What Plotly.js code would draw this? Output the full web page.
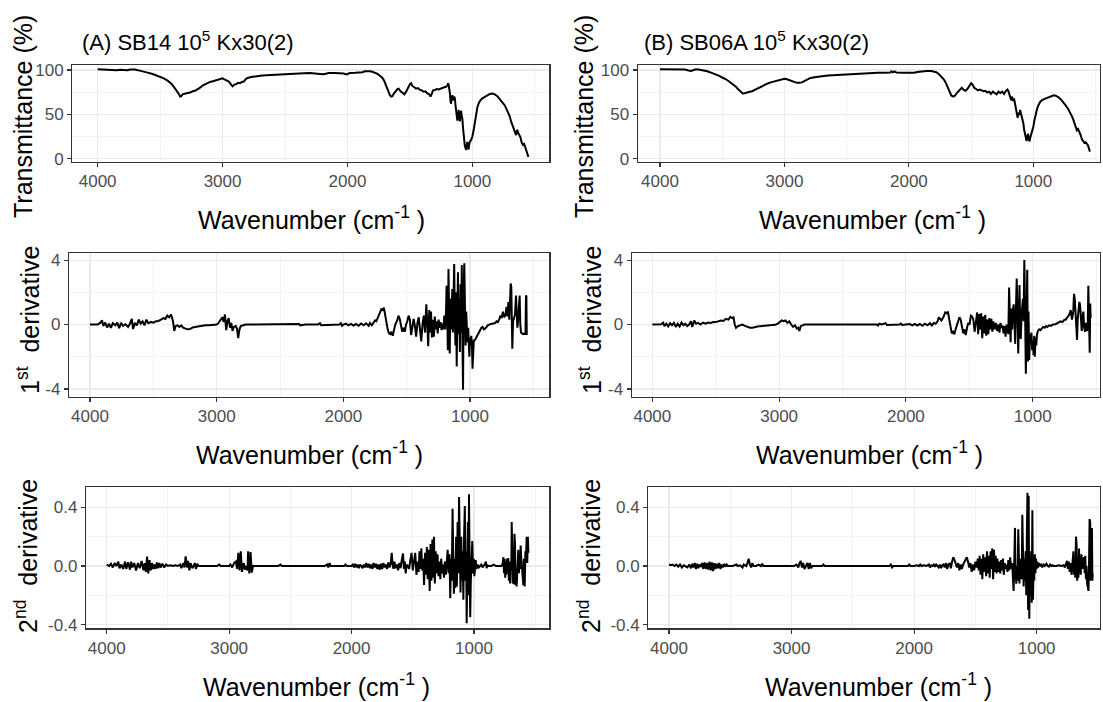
<!DOCTYPE html>
<html><head><meta charset="utf-8">
<script src="https://cdn.plot.ly/plotly-3.0.1.min.js"></script>
<style>html,body{margin:0;padding:0;background:#fff;} #chart{width:1103px;height:702px;}</style>
</head><body><div id="chart"></div>
<script>
// ---- data: [wavenumber, value] ----
const transA = [[4000,100.8],[3960,100.6],[3920,100.2],[3900,99.6],[3880,100.3],[3850,99.8],[3820,100.3],[3800,100.0],[3780,100.2],[3760,99.7],[3740,100.4],[3720,100.7],[3700,100.4],[3680,99.8],[3650,99.0],[3620,98.0],[3600,97.0],[3560,95.5],[3520,93.5],[3500,92.5],[3470,90.5],[3440,88.0],[3410,84.5],[3390,81.0],[3370,77.5],[3350,73.0],[3340,70.0],[3330,70.5],[3320,72.5],[3300,73.5],[3280,74.0],[3260,74.5],[3240,76.0],[3220,76.5],[3200,78.0],[3180,80.0],[3160,82.5],[3130,85.0],[3100,86.5],[3070,87.5],[3040,89.0],[3020,90.0],[3000,90.5],[2985,89.5],[2970,88.5],[2950,87.0],[2935,84.0],[2920,81.5],[2905,83.5],[2890,84.0],[2875,85.5],[2860,85.0],[2845,86.5],[2830,87.0],[2815,89.5],[2800,91.0],[2770,92.0],[2740,93.0],[2700,93.5],[2650,94.0],[2600,94.5],[2550,95.0],[2500,95.0],[2450,95.5],[2400,96.0],[2350,96.3],[2300,96.5],[2250,96.3],[2220,95.5],[2190,95.2],[2170,96.0],[2150,96.5],[2100,96.5],[2060,96.3],[2030,96.0],[2010,95.0],[1995,95.5],[1980,96.5],[1940,96.8],[1900,97.0],[1880,97.5],[1860,98.5],[1840,98.8],[1820,98.5],[1800,98.0],[1780,97.0],[1760,95.5],[1740,93.5],[1720,91.0],[1705,87.5],[1690,82.0],[1675,76.0],[1660,71.5],[1650,70.0],[1640,70.5],[1630,73.0],[1615,76.0],[1600,78.5],[1590,79.0],[1575,76.0],[1560,74.5],[1545,72.5],[1530,75.5],[1515,80.5],[1500,84.0],[1490,85.0],[1480,82.0],[1465,80.5],[1450,79.0],[1435,79.5],[1420,77.5],[1405,77.0],[1390,75.5],[1375,76.0],[1360,73.5],[1345,72.5],[1335,70.0],[1325,73.0],[1315,77.0],[1300,77.5],[1285,78.5],[1270,78.0],[1255,79.0],[1240,79.5],[1225,80.5],[1210,81.0],[1200,82.5],[1192,85.0],[1186,80.0],[1180,74.0],[1175,65.0],[1170,62.0],[1165,69.0],[1160,71.5],[1155,67.0],[1150,66.0],[1145,70.0],[1140,68.0],[1135,60.0],[1130,55.0],[1125,47.0],[1120,43.0],[1115,50.0],[1110,55.0],[1105,48.0],[1100,42.0],[1095,50.0],[1090,54.0],[1085,48.0],[1080,45.0],[1075,35.0],[1070,24.0],[1065,18.0],[1060,14.0],[1055,12.0],[1050,10.0],[1045,15.0],[1040,19.0],[1035,13.0],[1030,10.5],[1025,16.0],[1020,19.0],[1010,21.0],[1000,25.0],[990,32.0],[980,41.0],[970,50.0],[960,58.0],[950,62.0],[940,65.0],[920,68.0],[900,70.0],[880,71.5],[860,73.0],[840,73.5],[820,72.5],[800,70.5],[780,67.5],[760,63.5],[740,60.0],[725,55.0],[710,50.5],[700,47.5],[690,42.0],[680,38.0],[670,35.0],[660,32.0],[655,28.0],[650,26.5],[645,30.0],[640,32.5],[635,30.0],[625,27.0],[615,24.0],[605,18.0],[595,15.5],[585,16.5],[575,13.0],[565,9.0],[558,5.0],[552,2.0]];

const transB = [[4000,100.8],[3950,100.8],[3900,100.8],[3850,100.8],[3800,100.6],[3770,99.5],[3750,99.0],[3730,100.0],[3710,100.8],[3690,100.5],[3660,99.8],[3620,98.5],[3600,97.5],[3560,95.5],[3520,93.0],[3500,91.5],[3470,89.5],[3440,86.5],[3410,83.5],[3390,81.0],[3370,78.0],[3350,75.5],[3335,73.5],[3320,73.8],[3300,75.0],[3280,75.5],[3260,76.0],[3240,77.5],[3220,78.5],[3200,80.0],[3170,82.0],[3140,84.5],[3110,86.0],[3080,87.0],[3050,88.0],[3020,89.5],[3000,90.0],[2980,89.5],[2960,88.5],[2940,87.5],[2920,86.5],[2900,85.5],[2880,85.5],[2860,86.0],[2840,87.5],[2820,89.0],[2800,90.5],[2770,91.5],[2740,92.5],[2700,93.0],[2650,93.8],[2600,94.2],[2550,94.5],[2500,95.0],[2450,95.8],[2400,96.3],[2350,96.5],[2300,96.7],[2250,96.8],[2200,97.0],[2150,97.2],[2140,98.5],[2130,97.3],[2115,98.3],[2100,97.0],[2050,96.8],[2000,96.8],[1960,97.0],[1930,97.8],[1900,98.5],[1860,98.8],[1820,98.8],[1800,98.5],[1780,97.5],[1760,95.5],[1740,92.5],[1720,89.5],[1705,86.0],[1690,81.5],[1675,76.0],[1660,71.5],[1645,70.0],[1630,71.0],[1615,74.0],[1600,76.5],[1585,79.0],[1575,80.0],[1560,77.5],[1545,76.5],[1530,78.5],[1515,82.0],[1500,85.0],[1490,84.0],[1475,80.0],[1460,78.5],[1445,77.0],[1430,78.0],[1415,76.5],[1400,76.0],[1385,76.5],[1370,74.5],[1355,75.5],[1340,73.0],[1325,75.5],[1310,74.0],[1295,72.5],[1280,75.5],[1265,74.0],[1250,75.5],[1235,73.0],[1220,76.5],[1208,78.0],[1200,76.0],[1192,72.0],[1185,69.0],[1178,66.0],[1170,70.0],[1163,65.0],[1155,68.0],[1148,62.0],[1140,57.0],[1133,52.0],[1126,46.0],[1120,52.0],[1113,49.0],[1106,55.0],[1100,52.0],[1093,46.0],[1086,44.0],[1080,40.0],[1073,32.0],[1066,26.0],[1060,22.0],[1054,20.0],[1048,25.0],[1042,28.0],[1036,22.0],[1030,19.5],[1024,24.0],[1018,27.0],[1010,30.0],[1000,36.0],[990,44.0],[980,51.0],[970,56.0],[960,60.0],[945,64.0],[930,66.0],[910,67.5],[890,68.5],[870,69.5],[850,70.5],[835,71.5],[820,71.0],[800,69.5],[780,67.0],[760,64.0],[740,60.0],[720,56.0],[700,51.5],[690,48.0],[680,44.5],[670,40.0],[660,35.0],[650,32.0],[640,33.5],[630,31.0],[620,27.0],[610,22.0],[600,19.0],[590,18.0],[580,18.5],[570,16.5],[560,15.0],[552,11.0],[545,8.0]];

const firstDerA = [[4000,0.0],[3970,0.02],[3940,0.0],[3920,0.1],[3905,0.25],[3895,-0.1],[3880,0.12],[3865,-0.18],[3850,0.05],[3835,-0.2],[3820,0.08],[3800,-0.05],[3785,0.12],[3770,-0.22],[3755,0.1],[3740,-0.08],[3720,0.02],[3700,-0.15],[3685,0.05],[3670,0.35],[3660,-0.28],[3645,0.1],[3630,-0.05],[3615,0.3],[3600,0.05],[3585,0.2],[3570,-0.05],[3555,0.3],[3540,0.08],[3520,0.15],[3500,0.12],[3480,0.2],[3460,0.22],[3440,0.3],[3420,0.4],[3405,0.35],[3390,0.55],[3375,0.45],[3360,0.62],[3345,0.2],[3335,-0.4],[3325,-0.1],[3310,-0.05],[3295,-0.15],[3280,-0.05],[3265,-0.2],[3250,-0.25],[3230,-0.3],[3210,-0.28],[3190,-0.18],[3170,-0.15],[3150,-0.12],[3120,-0.08],[3090,-0.05],[3060,-0.04],[3030,-0.03],[3000,0.0],[2985,0.1],[2970,0.25],[2955,0.45],[2945,0.15],[2935,0.62],[2925,-0.35],[2915,0.2],[2905,0.4],[2895,-0.2],[2885,0.1],[2875,-0.4],[2865,-0.15],[2850,-0.1],[2840,-0.25],[2830,-0.85],[2820,-0.3],[2810,-0.1],[2790,-0.05],[2770,0.0],[2700,0.0],[2600,0.0],[2500,0.0],[2400,0.0],[2350,0.03],[2340,-0.05],[2300,0.0],[2200,0.0],[2185,0.08],[2175,-0.05],[2100,0.0],[2030,0.0],[2020,0.08],[2010,-0.08],[2000,0.0],[1980,0.05],[1960,-0.05],[1940,0.04],[1920,-0.06],[1900,0.03],[1880,-0.08],[1860,0.06],[1840,-0.05],[1820,0.08],[1800,-0.08],[1790,0.1],[1775,-0.05],[1760,0.1],[1750,0.25],[1740,0.2],[1730,0.4],[1720,0.6],[1710,0.85],[1700,0.95],[1690,0.9],[1680,1.05],[1670,0.6],[1660,0.1],[1650,-0.3],[1640,-0.55],[1630,-0.6],[1620,-0.45],[1610,-0.7],[1600,-0.35],[1590,0.0],[1575,0.25],[1565,0.55],[1555,0.35],[1545,-0.1],[1535,-0.45],[1525,-0.2],[1515,-0.45],[1505,0.0],[1495,0.2],[1485,0.55],[1475,0.3],[1465,-0.65],[1455,-0.2],[1445,0.35],[1435,-0.1],[1425,-0.75],[1415,0.1],[1405,0.45],[1395,-0.3],[1385,-1.05],[1375,0.0],[1365,0.55],[1355,-0.5],[1345,1.25],[1338,0.2],[1330,-1.35],[1322,0.9],[1315,-0.5],[1308,0.8],[1300,-0.8],[1292,0.3],[1285,-0.75],[1278,0.5],[1270,-0.3],[1262,0.2],[1255,-0.55],[1248,0.3],[1240,-0.2],[1232,0.15],[1225,-0.35],[1218,0.05],[1210,-0.3],[1203,0.55],[1196,-0.3],[1190,0.6],[1185,2.4],[1180,0.8],[1175,-1.6],[1170,3.45],[1165,1.2],[1160,-1.8],[1155,1.6],[1150,-0.3],[1145,0.6],[1140,2.2],[1135,-0.5],[1130,1.5],[1125,3.75],[1120,0.5],[1115,-1.3],[1110,2.0],[1105,-2.6],[1100,0.8],[1095,3.25],[1090,-0.6],[1085,1.6],[1080,-1.7],[1075,2.5],[1070,-0.5],[1065,3.7],[1060,-1.0],[1055,-4.05],[1050,2.4],[1045,3.8],[1040,1.2],[1035,-1.3],[1030,0.8],[1025,-0.5],[1020,-1.1],[1015,-0.2],[1010,-1.0],[1005,-2.0],[1000,-0.8],[995,-1.3],[990,-0.7],[985,-1.2],[980,-2.75],[975,-1.3],[970,-1.0],[960,-0.95],[950,-0.8],[940,-0.65],[930,-0.5],[920,-0.35],[910,-0.2],[900,-0.15],[890,-0.3],[880,-0.25],[870,-0.1],[860,-0.05],[840,0.02],[820,0.05],[800,0.1],[790,0.2],[780,0.15],[770,0.3],[760,0.55],[750,0.4],[740,0.8],[730,0.45],[720,0.6],[712,1.1],[705,0.5],[697,1.4],[690,0.3],[684,1.5],[679,2.55],[674,2.3],[670,0.5],[666,-1.5],[660,0.2],[652,0.4],[645,0.6],[637,1.8],[632,0.5],[626,-0.2],[620,0.3],[613,0.9],[608,1.8],[603,0.0],[597,-0.5],[590,-0.55],[580,-0.6],[570,-0.55],[562,-0.6],[558,1.8],[555,1.75],[552,-0.65]];

const firstDerB = [[4000,0.0],[3960,0.0],[3930,0.02],[3915,0.12],[3905,-0.1],[3890,0.05],[3875,-0.12],[3860,0.08],[3845,-0.05],[3830,0.1],[3815,-0.15],[3800,0.05],[3785,-0.12],[3770,0.12],[3755,-0.05],[3740,0.05],[3725,-0.1],[3710,0.0],[3695,0.2],[3685,-0.15],[3670,0.25],[3655,0.05],[3640,0.1],[3620,0.0],[3600,0.12],[3580,0.05],[3560,0.12],[3540,0.1],[3520,0.15],[3500,0.15],[3480,0.2],[3460,0.25],[3440,0.22],[3420,0.35],[3400,0.3],[3385,0.48],[3370,0.4],[3360,0.45],[3350,0.0],[3340,-0.2],[3325,-0.1],[3310,-0.05],[3290,0.0],[3270,-0.08],[3250,-0.15],[3230,-0.2],[3210,-0.2],[3190,-0.15],[3170,-0.12],[3150,-0.1],[3120,-0.08],[3090,-0.05],[3060,-0.04],[3030,-0.02],[3010,0.05],[2995,0.15],[2980,0.25],[2965,0.2],[2950,0.25],[2935,0.1],[2920,0.2],[2905,0.0],[2890,-0.15],[2875,-0.05],[2860,-0.25],[2850,-0.2],[2840,-0.4],[2830,-0.1],[2815,-0.05],[2800,0.0],[2700,0.0],[2600,0.0],[2500,0.0],[2400,0.0],[2300,0.0],[2230,0.0],[2220,-0.06],[2210,0.05],[2190,0.0],[2160,0.08],[2150,-0.03],[2100,0.0],[2050,0.0],[2040,0.06],[2030,-0.03],[2000,0.0],[1970,0.03],[1950,-0.05],[1930,0.04],[1910,-0.06],[1890,0.03],[1870,-0.08],[1850,0.05],[1830,-0.05],[1810,0.08],[1795,-0.06],[1780,0.1],[1765,0.05],[1750,0.2],[1740,0.45],[1730,0.3],[1720,0.25],[1705,0.45],[1690,0.75],[1678,0.7],[1668,0.8],[1658,0.3],[1648,-0.3],[1638,-0.55],[1628,-0.45],[1618,-0.6],[1608,-0.3],[1598,0.0],[1588,0.15],[1578,0.45],[1568,0.3],[1558,-0.1],[1548,-0.55],[1538,-0.3],[1528,-0.65],[1518,-0.2],[1508,0.1],[1498,0.0],[1488,0.55],[1478,0.5],[1468,0.3],[1458,-0.45],[1448,0.25],[1438,0.75],[1430,-0.6],[1422,0.65],[1414,-0.3],[1406,0.7],[1398,-0.85],[1390,0.5],[1382,-0.55],[1374,0.6],[1366,-0.7],[1358,0.3],[1350,-0.6],[1342,0.4],[1334,-0.3],[1326,0.35],[1318,-0.45],[1310,0.2],[1300,-0.3],[1290,0.1],[1280,-0.4],[1270,0.0],[1262,-0.5],[1254,0.1],[1246,-0.2],[1238,-0.05],[1230,-0.55],[1222,-0.1],[1214,-0.75],[1206,0.0],[1198,-0.3],[1192,-0.6],[1186,2.3],[1180,0.2],[1174,-1.1],[1168,1.0],[1162,-0.3],[1156,0.9],[1150,1.25],[1144,0.1],[1138,-1.2],[1132,1.0],[1126,2.85],[1120,0.8],[1114,-1.8],[1108,0.5],[1104,2.45],[1098,-0.5],[1094,-0.9],[1088,0.6],[1082,1.2],[1077,1.6],[1072,0.2],[1066,4.0],[1060,0.9],[1054,-3.05],[1048,0.3],[1043,3.4],[1038,-2.3],[1033,0.8],[1027,-2.2],[1021,-0.6],[1016,-1.0],[1010,-0.5],[1004,-1.6],[998,-1.0],[993,-1.9],[988,-0.7],[983,-2.0],[978,-0.8],[972,-1.3],[966,-0.6],[958,-0.4],[948,-0.3],[938,-0.35],[928,-0.25],[918,-0.15],[905,-0.2],[895,-0.1],[885,-0.15],[870,-0.05],[855,-0.08],[840,0.0],[820,0.02],[800,0.1],[780,0.2],[765,0.15],[750,0.3],[740,0.3],[725,0.5],[712,0.6],[700,0.9],[690,0.3],[680,0.8],[674,1.9],[668,1.6],[662,0.5],[656,0.2],[650,-0.95],[645,0.3],[638,0.9],[632,1.4],[626,1.2],[620,0.1],[613,-0.4],[607,0.5],[600,0.8],[594,-0.2],[587,-0.45],[580,0.1],[572,-0.4],[566,-0.2],[561,2.4],[556,0.4],[550,-1.75],[546,1.3],[543,0.4]];

const secondDerA = [[4000,0.01],[3980,0.0],[3965,0.015],[3950,-0.01],[3935,0.02],[3920,0.0],[3905,0.03],[3895,-0.015],[3880,0.01],[3865,-0.02],[3850,0.03],[3840,-0.02],[3825,0.025],[3810,-0.025],[3800,0.03],[3790,-0.01],[3775,0.02],[3760,-0.03],[3745,0.02],[3730,-0.015],[3715,0.035],[3700,-0.03],[3690,0.02],[3680,-0.04],[3670,0.065],[3660,-0.05],[3650,0.04],[3640,-0.03],[3630,0.02],[3620,-0.02],[3610,0.01],[3600,-0.02],[3590,0.025],[3580,-0.015],[3570,0.02],[3560,-0.01],[3545,0.015],[3530,-0.01],[3515,0.01],[3500,0.0],[3480,0.005],[3460,0.0],[3440,0.005],[3420,0.0],[3400,0.01],[3390,-0.015],[3375,0.02],[3365,-0.01],[3355,0.065],[3345,-0.01],[3335,0.035],[3325,-0.03],[3315,0.02],[3300,-0.015],[3290,0.0],[3280,0.02],[3270,-0.02],[3260,0.015],[3250,0.0],[3200,0.0],[3150,0.0],[3100,0.0],[3080,0.01],[3070,0.0],[3000,0.0],[2990,0.01],[2975,-0.01],[2960,0.02],[2945,0.03],[2935,-0.02],[2925,0.09],[2915,-0.03],[2905,0.1],[2895,-0.04],[2880,0.02],[2870,-0.025],[2860,0.0],[2850,-0.03],[2845,0.1],[2835,-0.05],[2825,0.095],[2815,-0.045],[2805,0.0],[2780,0.0],[2700,0.0],[2650,0.0],[2600,0.0],[2580,0.01],[2570,0.0],[2500,0.0],[2400,0.0],[2300,0.0],[2220,0.0],[2200,0.01],[2190,-0.01],[2180,0.02],[2170,0.0],[2100,0.0],[2060,0.0],[2050,0.01],[2040,0.0],[2000,0.0],[1990,0.01],[1980,-0.01],[1970,0.015],[1960,-0.01],[1950,0.01],[1940,-0.015],[1930,0.01],[1920,0.0],[1910,-0.015],[1900,0.01],[1890,-0.01],[1880,0.02],[1870,-0.01],[1860,0.015],[1850,-0.015],[1840,0.01],[1830,-0.02],[1820,0.02],[1810,-0.01],[1800,0.015],[1790,-0.02],[1780,0.01],[1770,-0.025],[1760,0.015],[1750,-0.02],[1740,0.02],[1730,-0.01],[1720,0.01],[1710,-0.02],[1700,0.025],[1690,-0.01],[1680,0.02],[1672,0.09],[1665,0.01],[1658,-0.02],[1650,0.03],[1640,-0.015],[1630,0.01],[1620,-0.03],[1610,0.02],[1600,-0.015],[1590,0.04],[1580,0.085],[1572,-0.02],[1565,0.03],[1558,-0.05],[1550,0.01],[1540,0.0],[1530,-0.02],[1520,0.04],[1510,0.09],[1500,-0.03],[1490,0.02],[1480,0.09],[1470,-0.06],[1460,0.03],[1452,-0.04],[1445,0.1],[1438,-0.02],[1430,0.12],[1423,-0.03],[1415,0.05],[1408,-0.13],[1400,0.09],[1392,-0.06],[1385,0.13],[1378,-0.09],[1370,0.11],[1362,-0.17],[1355,0.15],[1348,-0.1],[1340,0.18],[1333,-0.08],[1327,0.2],[1320,-0.12],[1313,0.1],[1306,-0.05],[1298,0.08],[1290,-0.07],[1282,0.03],[1275,-0.09],[1268,0.05],[1260,-0.05],[1252,0.01],[1245,-0.08],[1238,0.03],[1230,-0.06],[1222,0.02],[1215,0.11],[1208,-0.05],[1200,0.08],[1194,-0.22],[1188,0.05],[1182,-0.1],[1175,0.39],[1170,0.1],[1164,-0.19],[1158,0.05],[1152,-0.15],[1146,0.2],[1140,-0.14],[1134,0.3],[1128,-0.05],[1122,0.47],[1116,0.0],[1110,-0.18],[1104,0.2],[1098,-0.1],[1092,0.1],[1087,-0.23],[1081,0.2],[1075,0.41],[1069,-0.1],[1064,0.1],[1060,-0.39],[1055,0.0],[1050,0.3],[1046,-0.2],[1041,0.49],[1036,0.05],[1031,-0.35],[1026,-0.1],[1020,0.05],[1014,0.17],[1008,-0.05],[1002,0.05],[997,-0.07],[992,0.0],[986,0.04],[980,-0.02],[970,0.01],[960,-0.01],[950,0.0],[940,0.01],[930,-0.01],[920,0.0],[910,0.015],[903,0.03],[897,-0.015],[890,0.005],[880,0.0],[860,0.0],[840,0.01],[820,0.0],[800,0.0],[790,0.005],[775,0.0],[765,0.02],[760,0.06],[755,-0.05],[750,0.05],[745,-0.08],[740,0.03],[735,-0.06],[730,0.05],[725,-0.02],[720,0.055],[715,-0.1],[710,0.03],[705,-0.12],[700,0.02],[695,0.0],[692,0.3],[688,0.05],[683,-0.12],[679,0.1],[675,-0.125],[670,0.22],[665,0.15],[661,-0.13],[656,-0.02],[652,-0.14],[647,0.0],[643,0.1],[638,0.11],[633,-0.05],[628,0.05],[623,-0.02],[619,0.14],[614,0.05],[609,0.0],[603,-0.1],[597,-0.13],[592,0.05],[586,-0.14],[580,0.1],[575,0.06],[570,0.2],[565,0.02],[560,0.2],[556,0.09]];

const secondDerB = [[4000,0.01],[3985,0.005],[3970,0.01],[3955,0.0],[3940,0.01],[3925,-0.005],[3910,0.01],[3895,-0.01],[3880,0.005],[3865,0.0],[3850,-0.01],[3835,0.01],[3820,-0.015],[3810,0.015],[3800,-0.01],[3790,0.02],[3780,-0.02],[3770,0.015],[3760,-0.015],[3750,0.01],[3740,0.0],[3730,0.02],[3720,-0.02],[3710,0.025],[3700,-0.02],[3690,0.02],[3680,-0.025],[3670,0.03],[3660,-0.03],[3650,0.025],[3640,-0.035],[3630,0.02],[3620,-0.02],[3610,0.015],[3600,-0.015],[3590,0.02],[3580,-0.02],[3570,0.01],[3560,-0.01],[3550,0.015],[3540,-0.005],[3530,0.01],[3520,0.0],[3500,0.0],[3480,0.0],[3450,0.01],[3440,0.0],[3420,0.005],[3400,-0.01],[3390,0.01],[3370,0.0],[3360,0.02],[3350,0.05],[3340,0.01],[3330,-0.01],[3320,0.02],[3310,0.0],[3290,0.0],[3270,0.01],[3250,0.0],[3240,0.015],[3230,0.0],[3200,0.0],[3150,0.0],[3100,0.0],[3080,0.005],[3060,0.0],[3000,0.0],[2980,0.0],[2960,0.01],[2945,-0.01],[2935,0.02],[2925,0.035],[2915,-0.01],[2905,0.02],[2895,-0.02],[2885,0.0],[2870,0.02],[2860,-0.02],[2850,0.02],[2840,-0.015],[2830,0.0],[2800,0.0],[2750,0.0],[2740,0.01],[2730,0.0],[2600,0.0],[2500,0.0],[2400,0.0],[2300,0.0],[2200,0.0],[2190,0.01],[2180,-0.01],[2170,0.0],[2100,0.0],[2050,0.0],[2040,0.01],[2030,0.0],[2000,0.0],[1980,0.005],[1960,0.0],[1950,0.01],[1940,0.0],[1920,0.005],[1900,0.0],[1880,0.01],[1870,-0.01],[1860,0.005],[1850,0.0],[1840,0.01],[1830,-0.005],[1820,0.01],[1810,0.0],[1800,-0.01],[1790,0.01],[1780,-0.015],[1770,0.005],[1760,0.01],[1750,-0.01],[1740,0.02],[1730,-0.02],[1720,0.01],[1710,0.02],[1700,-0.015],[1690,0.03],[1680,0.06],[1670,0.04],[1660,0.02],[1650,-0.01],[1640,0.02],[1630,-0.03],[1620,0.01],[1610,-0.02],[1600,0.01],[1590,0.03],[1580,0.05],[1570,0.06],[1560,0.03],[1550,-0.01],[1540,0.02],[1530,-0.04],[1520,0.01],[1510,-0.03],[1500,0.03],[1490,-0.01],[1480,0.05],[1472,-0.03],[1465,0.07],[1458,-0.06],[1450,0.05],[1443,-0.09],[1436,0.08],[1428,-0.04],[1420,0.06],[1412,-0.07],[1405,0.1],[1398,-0.05],[1390,0.07],[1383,-0.08],[1376,0.1],[1369,-0.02],[1362,0.12],[1355,-0.09],[1348,0.11],[1341,-0.04],[1334,0.07],[1327,-0.05],[1320,0.05],[1312,-0.04],[1305,0.03],[1297,-0.05],[1290,0.04],[1282,-0.03],[1275,0.05],[1268,-0.06],[1260,0.02],[1252,-0.02],[1245,0.01],[1238,-0.04],[1231,0.04],[1224,-0.03],[1216,0.06],[1208,-0.02],[1200,0.02],[1194,-0.09],[1188,-0.17],[1182,0.05],[1177,0.26],[1172,-0.05],[1166,-0.12],[1160,0.0],[1155,-0.1],[1150,0.25],[1145,-0.08],[1140,-0.12],[1134,0.05],[1128,-0.02],[1122,-0.09],[1117,0.35],[1112,0.0],[1106,-0.14],[1100,0.05],[1095,-0.1],[1090,0.1],[1085,-0.2],[1080,0.2],[1075,0.5],[1070,-0.3],[1065,0.48],[1060,-0.36],[1055,0.0],[1050,-0.2],[1045,0.1],[1040,-0.25],[1035,0.38],[1030,-0.23],[1025,0.0],[1020,-0.1],[1015,0.08],[1010,-0.05],[1005,0.05],[1000,-0.02],[994,0.03],[988,-0.01],[982,0.02],[975,0.0],[965,0.01],[955,-0.01],[945,0.01],[935,0.0],[920,0.015],[910,0.0],[900,-0.005],[890,0.01],[880,0.0],[870,0.005],[860,0.0],[840,0.0],[820,0.005],[800,0.0],[780,0.005],[770,-0.01],[760,0.02],[752,0.035],[745,-0.02],[738,0.03],[730,-0.04],[722,0.02],[715,-0.06],[708,0.035],[700,0.1],[695,-0.06],[690,0.05],[685,-0.08],[679,0.2],[674,0.15],[669,-0.1],[664,0.0],[659,-0.08],[654,0.12],[650,-0.03],[645,0.0],[640,-0.06],[635,0.08],[630,0.04],[625,-0.02],[620,0.03],[613,0.06],[608,-0.05],[603,0.07],[598,-0.09],[593,0.0],[588,-0.12],[582,-0.15],[577,-0.17],[572,0.05],[568,0.32],[563,0.3],[558,-0.1],[554,0.0],[549,0.26],[545,-0.1],[542,-0.05]];

// ---- tick labels ----
const xTickVals = [4000, 3000, 2000, 1000];
const xTickText = ['4000', '3000', '2000', '1000'];
const xMinorVals = [3500, 2500, 1500, 500];
const transTickVals = [0, 50, 100];
const transTickText = ['0', '50', '100'];
const transMinorVals = [25, 75];
const d1TickVals = [-4, 0, 4];
const d1TickText = ['-4', '0', '4'];
const d1MinorVals = [-2, 2];
const d2TickVals = [-0.4, 0, 0.4];
const d2TickText = ['-0.4', '0.0', '0.4'];
const d2MinorVals = [-0.2, 0.2];

const panelTitles = ['(A) SB14 10<sup>5</sup> Kx30(2)', '(B) SB06A 10<sup>5</sup> Kx30(2)'];
const yTitles = ['Transmittance (%)', '1<sup>st</sup>\u00a0\u00a0derivative', '2<sup>nd</sup>\u00a0\u00a0derivative'];
const xTitle = 'Wavenumber (cm<sup>-1</sup> )';

// ---- layout geometry (pixels) ----
const W = 1103, H = 702;
const FONT = 'Liberation Sans, Arial, sans-serif';
const panels = [
  {series: transA, px: [72.3, 549.3], py: [65, 161.7], xr: [4203, 384], yr: [-3.4, 105.6], tv: transTickVals, tt: transTickText, mv: transMinorVals},
  {series: transB, px: [637.7, 1100], py: [65, 161.7], xr: [4179.5, 464], yr: [-3.4, 105.6], tv: transTickVals, tt: transTickText, mv: transMinorVals},
  {series: firstDerA, px: [69, 549.3], py: [253.3, 396.7], xr: [4166, 374], yr: [-4.48, 4.42], tv: d1TickVals, tt: d1TickText, mv: d1MinorVals},
  {series: firstDerB, px: [631.7, 1100], py: [253.3, 396.7], xr: [4163, 469], yr: [-4.48, 4.42], tv: d1TickVals, tt: d1TickText, mv: d1MinorVals},
  {series: secondDerA, px: [86, 549.3], py: [486.7, 628.3], xr: [4169, 385], yr: [-0.425, 0.541], tv: d2TickVals, tt: d2TickText, mv: d2MinorVals},
  {series: secondDerB, px: [648.3, 1100], py: [486.7, 628.3], xr: [4169, 483], yr: [-0.425, 0.541], tv: d2TickVals, tt: d2TickText, mv: d2MinorVals}
];

const fx = p => p / W;
const fy = p => 1 - p / H;

const traces = [];
const layout = {
  width: W, height: H,
  margin: {l: 0, r: 0, t: 0, b: 0, pad: 0},
  paper_bgcolor: '#ffffff', plot_bgcolor: '#ffffff',
  showlegend: false,
  font: {family: FONT, color: '#000000'},
  annotations: []
};

const axisCommon = {
  showline: true, mirror: true, linecolor: '#333333', linewidth: 1.2,
  ticks: 'outside', ticklen: 4, tickwidth: 1.1, tickcolor: '#333333',
  showgrid: true, gridcolor: '#EBEBEB', gridwidth: 1.1,
  zeroline: false, tickfont: {family: FONT, size: 17, color: '#4D4D4D'},
  tickmode: 'array', fixedrange: true
};

panels.forEach((p, i) => {
  const n = i === 0 ? '' : String(i + 1);
  traces.push({
    type: 'scatter', mode: 'lines',
    x: p.series.map(d => d[0]), y: p.series.map(d => d[1]),
    xaxis: 'x' + n, yaxis: 'y' + n,
    line: {color: '#000000', width: 2},
    hoverinfo: 'skip'
  });
  layout['xaxis' + n] = Object.assign({}, axisCommon, {
    domain: [fx(p.px[0]), fx(p.px[1])], range: p.xr, anchor: 'y' + n,
    tickvals: xTickVals, ticktext: xTickText,
    minor: {tickmode: 'array', tickvals: xMinorVals, showgrid: true, gridcolor: '#EBEBEB', gridwidth: 0.6, ticks: ''}
  });
  layout['yaxis' + n] = Object.assign({}, axisCommon, {
    domain: [fy(p.py[1]), fy(p.py[0])], range: p.yr, anchor: 'x' + n,
    tickvals: p.tv, ticktext: p.tt,
    minor: {tickmode: 'array', tickvals: p.mv, showgrid: true, gridcolor: '#EBEBEB', gridwidth: 0.6, ticks: ''}
  });
});

function ann(text, x, y, opts) {
  layout.annotations.push(Object.assign({
    text: text, xref: 'paper', yref: 'paper', x: fx(x), y: fy(y),
    xanchor: 'center', yanchor: 'middle', showarrow: false,
    font: {family: FONT, size: 25, color: '#000000'}
  }, opts || {}));
}

// panel titles
ann(panelTitles[0], 80, 41, {xanchor: 'left', font: {family: FONT, size: 22, color: '#000000'}});
ann(panelTitles[1], 642, 41, {xanchor: 'left', font: {family: FONT, size: 22, color: '#000000'}});

// y-axis titles
const yTitlePos = [[23, 117, 584, 117], [28, 320, 590, 320], [26, 556, 589, 556]];
yTitles.forEach((t, r) => {
  ann(t, yTitlePos[r][0], yTitlePos[r][1], {textangle: -90});
  ann(t, yTitlePos[r][2], yTitlePos[r][3], {textangle: -90});
});

// x-axis titles
const xTitlePos = [[311, 218], [872, 218], [309, 453], [869, 453], [316, 685], [878, 685]];
xTitlePos.forEach(q => ann(xTitle, q[0], q[1]));

Plotly.newPlot('chart', traces, layout, {staticPlot: true, displayModeBar: false});
</script>
</body></html>
